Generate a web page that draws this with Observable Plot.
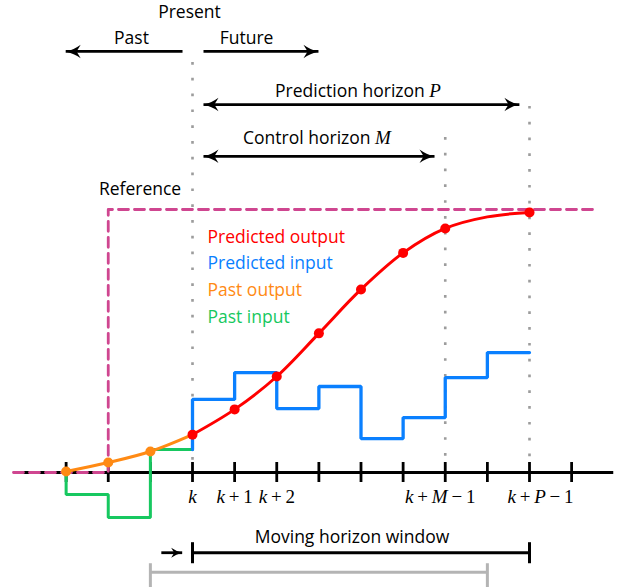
<!DOCTYPE html>
<html><head><meta charset="utf-8">
<script src="https://cdn.jsdelivr.net/npm/d3@7"></script>
<script src="https://cdn.jsdelivr.net/npm/@observablehq/plot@0.6"></script>
<style>body{margin:0;background:#fff}</style>
</head><body><div id="chart"></div>
<script>
// ---- time steps (k = 0) and tick labels ----
const tickSteps = [-3,-2,-1,0,1,2,3,4,5,6,7,8,9];
const tickLabelSteps = [0,1,2];
const tickLabelTexts = ["$k$","$k + 1$","$k + 2$"];
const controlLabelStep = 6, controlLabelText = "$k + M - 1$";
const predictionLabelStep = 8, predictionLabelText = "$k + P - 1$";

// ---- reference trajectory ----
const referenceT = [-4.25,-2,-2,9.57];
const referenceY = [0,0,1,1];

// ---- outputs ----
const pastOutputT = [-3,-2,-1,0];
const pastOutputY = [0.004,0.038,0.080,0.144];
const predOutputT = [0,1,2,3,4,5,6,7,8];
const predOutputY = [0.144,0.240,0.365,0.529,0.696,0.835,0.928,0.972,0.989];
const predOutputMarked = [true,true,true,true,true,true,true,false,true];

// ---- inputs (piecewise constant) ----
const pastInputT = [-3,-3,-2,-1,0];
const pastInputU = [0,-0.084,-0.171,0.087,0.087];
const predInputT = [0,0,1,2,3,4,5,6,7,8];
const predInputU = [0.087,0.278,0.380,0.243,0.327,0.129,0.209,0.361,0.456,0.456];

// ---- horizon guide lines ----
const guideSteps = [0,6,8];
const guideTops = [1.559,1.274,1.392];

// ---- legend ----
const legendNames = ["Predicted output","Predicted input","Past output","Past input"];
const legendColors = ["#ff0000","#0a80ff","#ff8a14","#17c860"];
const legendLevels = [0.895,0.795,0.692,0.590];

const RED = legendColors[0], BLUE = legendColors[1], ORANGE = legendColors[2], GREEN = legendColors[3];
const MAGENTA = "#cf4690";

// ---- annotations ----
const annoTexts = [
  {text:"Present", x:-0.071, y:1.749},
  {text:"Past", x:-1.448, y:1.650},
  {text:"Future", x:1.282, y:1.650},
  {text:"Prediction horizon $P$", x:3.929, y:1.450},
  {text:"Control horizon $M$", x:2.955, y:1.270},
  {text:"Reference", x:-1.246, y:1.076},
  {text:"Moving horizon window", x:3.786, y:-0.246}
];
const arrows = [
  {from:-0.237, to:-3.01, y:1.601, both:false},
  {from:0.261, to:2.99, y:1.601, both:false},
  {from:0.261, to:7.76, y:1.399, both:true},
  {from:0.261, to:5.745, y:1.202, both:true}
];
const windowArrow = {from:-0.74, to:-0.245, y:-0.305};
const windowBars = [
  {x1:0, x2:8, y:-0.305, capTop:-0.265, capBottom:-0.345, color:"#000"},
  {x1:-1, x2:7, y:-0.379, capTop:-0.345, capBottom:-0.47, color:"#b4b4b4"}
];
const axisStart = -4.04, axisEnd = 10.0, tickHalf = 0.038, tickLabelLevel = -0.096;

const zip = (a, b, f) => a.map((v, i) => f(v, b[i], i));
const reference = zip(referenceT, referenceY, (t, y) => ({t, y}));
const pastOutput = zip(pastOutputT, pastOutputY, (t, y) => ({t, y}));
const predOutput = zip(predOutputT, predOutputY, (t, y) => ({t, y}));
const pastInput = zip(pastInputT, pastInputU, (t, u) => ({t, u}));
const predInput = zip(predInputT, predInputU, (t, u) => ({t, u}));
const guides = zip(guideSteps, guideTops, (t, top) => ({t, top}));
const legend = legendNames.map((name, i) => ({name, color: legendColors[i], y: legendLevels[i]}));
const tickLabels = zip(tickLabelSteps, tickLabelTexts, (t, label) => ({t, label}));

const rightHeads = arrows.filter(a => a.to > a.from).map(a => ({x: a.to, y: a.y}));
const leftHeads = arrows.filter(a => a.to < a.from).map(a => ({x: a.to, y: a.y}))
  .concat(arrows.filter(a => a.both).map(a => ({x: a.from, y: a.y})));

const stealth = {draw(ctx, size) {
  const r = Math.sqrt(size / Math.PI);
  ctx.moveTo(r, 0);
  ctx.quadraticCurveTo(-0.1 * r, -0.25 * r, -r, -0.9 * r);
  ctx.lineTo(-0.45 * r, 0);
  ctx.lineTo(-r, 0.9 * r);
  ctx.quadraticCurveTo(-0.1 * r, 0.25 * r, r, 0);
  ctx.closePath();
}};

const SANS = "Open Sans";
const FS = 17.5;
const plot = Plot.plot({
  width: 628, height: 587, margin: 0,
  x: {domain: [0, 8], range: [192, 529], axis: null},
  y: {domain: [0, 1], range: [472, 209], axis: null},
  style: {fontFamily: SANS, fontSize: FS + "px", background: "white", overflow: "visible"},
  marks: [
    Plot.ruleX(guides, {x: "t", y1: "top", y2: tickHalf, stroke: "#9c9c9c", strokeWidth: 2.6, strokeDasharray: "2.7,13.1"}),
    Plot.ruleY([0], {x1: axisStart, x2: axisEnd, stroke: "#000", strokeWidth: 3}),
    Plot.ruleX(tickSteps, {x: d => d, y1: -tickHalf, y2: tickHalf, stroke: "#000", strokeWidth: 2.8}),
    Plot.line(reference, {x: "t", y: "y", stroke: MAGENTA, strokeWidth: 2.8, strokeDasharray: "10,6"}),
    Plot.line(pastInput, {x: "t", y: "u", curve: "step-after", stroke: GREEN, strokeWidth: 3, strokeLinejoin: "miter"}),
    Plot.line(predInput, {x: "t", y: "u", curve: "step-after", stroke: BLUE, strokeWidth: 3.3, strokeLinejoin: "miter"}),
    Plot.line(pastOutput, {x: "t", y: "y", curve: "catmull-rom", stroke: ORANGE, strokeWidth: 3}),
    Plot.dot(pastOutput.slice(0, 3), {x: "t", y: "y", r: 5, fill: ORANGE}),
    Plot.line(predOutput, {x: "t", y: "y", curve: "catmull-rom", stroke: RED, strokeWidth: 3}),
    Plot.dot(predOutput.filter((d, i) => predOutputMarked[i]), {x: "t", y: "y", r: 5, fill: RED}),
    Plot.text(legend, {x: 0.356, y: "y", text: "name", fill: "color", textAnchor: "start", lineAnchor: "middle", fontSize: FS}),
    Plot.text(annoTexts, {x: "x", y: "y", text: "text", fill: "#000", lineAnchor: "middle", fontSize: FS}),
    Plot.text(tickLabels, {x: "t", y: tickLabelLevel, text: "label", lineAnchor: "middle"}),
    Plot.text([controlLabelText], {x: controlLabelStep, y: tickLabelLevel, text: d => d, lineAnchor: "middle", dx: -5}),
    Plot.text([predictionLabelText], {x: predictionLabelStep, y: tickLabelLevel, text: d => d, lineAnchor: "middle", dx: 11}),
    Plot.link(arrows, {x1: "from", x2: "to", y1: "y", y2: "y", stroke: "#000", strokeWidth: 2.8}),
    Plot.dot(rightHeads, {x: "x", y: "y", r: 7.5, symbol: stealth, fill: "#000", dx: -7.5}),
    Plot.dot(leftHeads, {x: "x", y: "y", r: 7.5, symbol: stealth, fill: "#000", rotate: 180, dx: 7.5}),
    Plot.link([windowArrow], {x1: "from", x2: "to", y1: "y", y2: "y", stroke: "#000", strokeWidth: 2.8}),
    Plot.dot([windowArrow], {x: "to", y: "y", r: 5.5, symbol: stealth, fill: "#000", dx: -5.5}),
    Plot.link(windowBars, {x1: "x1", x2: "x2", y1: "y", y2: "y", stroke: "color", strokeWidth: 3}),
    Plot.link(windowBars, {x1: "x1", x2: "x1", y1: "capTop", y2: "capBottom", stroke: "color", strokeWidth: 3}),
    Plot.link(windowBars, {x1: "x2", x2: "x2", y1: "capTop", y2: "capBottom", stroke: "color", strokeWidth: 3})
  ]
});

// typeset $...$ segments as math (serif, italic letters, spaced operators)
const NS = "http://www.w3.org/2000/svg";
plot.querySelectorAll("text").forEach(t => {
  const s = t.textContent;
  if (!s.includes("$")) return;
  while (t.firstChild) t.removeChild(t.firstChild);
  s.split("$").forEach((seg, i) => {
    if (!seg) return;
    if (i % 2 === 0) {
      const ts = document.createElementNS(NS, "tspan");
      ts.textContent = seg; t.appendChild(ts);
    } else {
      const tokens = seg.replace(/-/g, "\u2212").split(/\s+/).filter(Boolean);
      tokens.forEach((p, j) => {
        const ts = document.createElementNS(NS, "tspan");
        ts.textContent = p;
        ts.setAttribute("font-family", "Liberation Serif");
        ts.setAttribute("font-size", "19");
        if (j > 0) ts.setAttribute("dx", "3.8");
        if (/[A-Za-z]/.test(p)) ts.setAttribute("font-style", "italic");
        t.appendChild(ts);
      });
    }
  });
});
document.getElementById("chart").appendChild(plot);
</script>
</body></html>
